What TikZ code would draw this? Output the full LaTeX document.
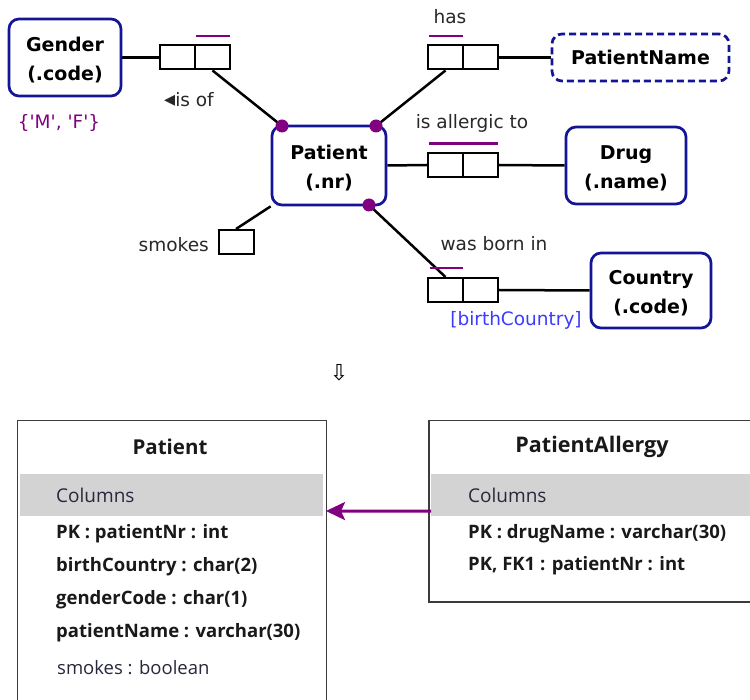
\documentclass[tikz,border=0pt]{standalone}
\usepackage{fontspec}
\setmainfont{DejaVu Sans}
\newfontfamily\plainfont{DejaVu Sans}
\newfontfamily\tabfont{Open Sans}
\usetikzlibrary{arrows.meta}
\definecolor{entblue}{RGB}{20,20,150}
\definecolor{uq}{RGB}{128,0,128}
\definecolor{lblue}{RGB}{60,60,255}
\definecolor{bandgray}{RGB}{211,211,211}
\definecolor{tborder}{RGB}{60,60,60}
\definecolor{lbl}{RGB}{40,40,40}
\pgfdeclarelayer{bg}
\pgfsetlayers{bg,main}
\newsavebox\myentbox
\newcommand{\enttwo}[2]{\sbox\myentbox{\begin{tabular}{@{}c@{}}#1\\#2\end{tabular}}\raisebox{-2.5pt}[\ht\myentbox][\dp\myentbox]{\usebox\myentbox}}
\begin{document}
\begin{tikzpicture}[x=1pt,y=-1pt,
  entity/.style={draw=entblue,line width=2.7pt,rounded corners=10pt,fill=white,align=center,inner sep=0pt,font=\bfseries\fontsize{19}{29}\selectfont},
  rolebox/.style={draw=black,line width=2pt,fill=white,minimum width=35pt,minimum height=24pt,inner sep=0pt},
  conn/.style={line width=2.5pt,black},
  uniq/.style={uq,line width=2.5pt},
  pdot/.style={circle,fill=uq,minimum size=13pt,inner sep=0pt},
  lab/.style={text=lbl,font=\fontsize{18.5}{22}\selectfont,inner sep=0pt},
  tab/.style={draw=tborder,line width=1.5pt,fill=white,inner sep=0pt},
  band/.style={fill=bandgray,inner sep=0pt},
  ttitle/.style={font=\tabfont\bfseries\fontsize{20.5}{24}\selectfont,text=black!90,inner sep=0pt},
  tcol/.style={anchor=west,font=\tabfont\fontsize{19}{22}\selectfont,text={rgb,255:red,40;green,40;blue,60},inner sep=0pt},
  trow/.style={anchor=west,font=\tabfont\bfseries\fontsize{18.5}{22}\selectfont,text=black!90,inner sep=0pt},
  trowp/.style={anchor=west,font=\tabfont\fontsize{18.5}{22}\selectfont,text={rgb,255:red,40;green,40;blue,60},inner sep=0pt},
  fk/.style={draw=uq,line width=3pt,-{Stealth[length=19pt,width=18pt,inset=4pt]}}
]
\path[use as bounding box] (0,0) rectangle (750,700);
\begin{pgfonlayer}{bg}
\fill[white] (0,0) rectangle (750,700);
\end{pgfonlayer}
\clip (0,0) rectangle (750,700);

% entities
\node[entity,minimum width=112pt,minimum height=77pt] (gender) at (65,57.5) {\enttwo{Gender}{(.code)}};
\node[entity,minimum width=114pt,minimum height=79pt] (patient) at (329,165.5) {\enttwo{Patient}{(.nr)}};
\node[entity,dash pattern=on 7pt off 4pt,minimum width=177pt,minimum height=47pt] (pname) at (640.5,57.5) {PatientName};
\node[entity,minimum width=120pt,minimum height=77pt] (drug) at (626,165.5) {\enttwo{Drug}{(.name)}};
\node[entity,minimum width=120pt,minimum height=75pt] (country) at (651,290.5) {\enttwo{Country}{(.code)}};

% role boxes
\node[rolebox] (isofA) at (177.5,57.5) {};
\node[rolebox] (isofB) at (212.5,57.5) {};
\node[rolebox] (hasA) at (445.5,57.5) {};
\node[rolebox] (hasB) at (480.5,57.5) {};
\node[rolebox] (allA) at (445.5,165) {};
\node[rolebox] (allB) at (480.5,165) {};
\node[rolebox] (bornA) at (445.5,290) {};
\node[rolebox] (bornB) at (480.5,290) {};
\node[rolebox] (smk) at (236,242) {};

% mandatory dots
\node[pdot] (d1) at (282,126) {};
\node[pdot] (d2) at (376,126) {};
\node[pdot] (d3) at (369,205) {};

% connectors
\begin{pgfonlayer}{bg}
\draw[conn] (gender.east) -- (isofA.west);
\draw[conn] (isofB.south) -- (d1.center);
\draw[conn] (hasA.south) -- (d2.center);
\draw[conn] (hasB.east) -- (pname.west);
\draw[conn] (patient.east) -- (allA.west);
\draw[conn] (allB.east) -- (drug.west);
\draw[conn] (d3.center) -- (bornA.north);
\draw[conn] (bornB.east) -- (country.west);
\draw[conn] (smk.north) -- (patient.south west);
\end{pgfonlayer}

% uniqueness bars
\draw[uniq] ([xshift=2pt,yshift=8.5pt]isofB.north west) -- ([xshift=-1pt,yshift=8.5pt]isofB.north east);
\draw[uniq] ([xshift=2pt,yshift=8.5pt]hasA.north west) -- ([xshift=-1pt,yshift=8.5pt]hasA.north east);
\draw[uniq] ([xshift=2pt,yshift=8.5pt]allA.north west) -- ([xshift=-1pt,yshift=8.5pt]allB.north east);
\draw[uniq] ([xshift=3pt,yshift=9pt]bornA.north west) -- ([xshift=-1pt,yshift=9pt]bornA.north east);

% labels
\node[lab] (lhas) at (450,17) {has};
\node[lab] (lisof) at (189,100) {{\fontsize{22}{22}\selectfont◂}is of};
\node[lab,text=uq,font=\plainfont\fontsize{18.5}{22}\selectfont] (lmf) at (59,123) {\{'M', 'F'\}};
\node[lab] (lall) at (472,123) {is allergic to};
\node[lab,anchor=east] (lsmk) at (209,245) {smokes};
\node[lab] (lborn) at (494,244) {was born in};
\node[lab,text=lblue] (lbc) at (516,320) {[birthCountry]};

\node[font=\fontsize{22}{22}\selectfont,inner sep=0pt] (darr) at (339,373) {⇩};

% tables
\node[tab,anchor=north west,minimum width=309pt,minimum height=300pt] (ptab) at (16.5,420) {};
\node[band,anchor=north west,minimum width=303pt,minimum height=42pt] (pband) at (20,474) {};
\node[ttitle] (ptitle) at (170,447) {Patient};
\node[tcol] (pcol) at (56,495) {Columns};
\node[trow] (pr1) at (56,534) {PK : patientNr : int};
\node[trow] (pr2) at (56,567) {birthCountry : char(2)};
\node[trow] (pr3) at (56,600) {genderCode : char(1)};
\node[trow] (pr4) at (56,633) {patientName : varchar(30)};
\node[trowp] (pr5) at (57,668) {smokes : boolean};

\node[tab,anchor=north west,minimum width=340pt,minimum height=181pt] (patab) at (428,420) {};
\node[band,anchor=north west,minimum width=330pt,minimum height=42pt] (paband) at (431,474) {};
\node[ttitle,font=\tabfont\bfseries\fontsize{21.5}{24}\selectfont] (patitle) at (592,447) {PatientAllergy};
\node[tcol] (pacol) at (468,495) {Columns};
\node[trow] (par1) at (468,534) {PK : drugName : varchar(30)};
\node[trow] (par2) at (468,566) {PK, FK1 : patientNr : int};

\coordinate (fkE) at (326,511);
\draw[fk] ([yshift=-16pt]paband.west) -- (fkE);
\end{tikzpicture}
\end{document}
